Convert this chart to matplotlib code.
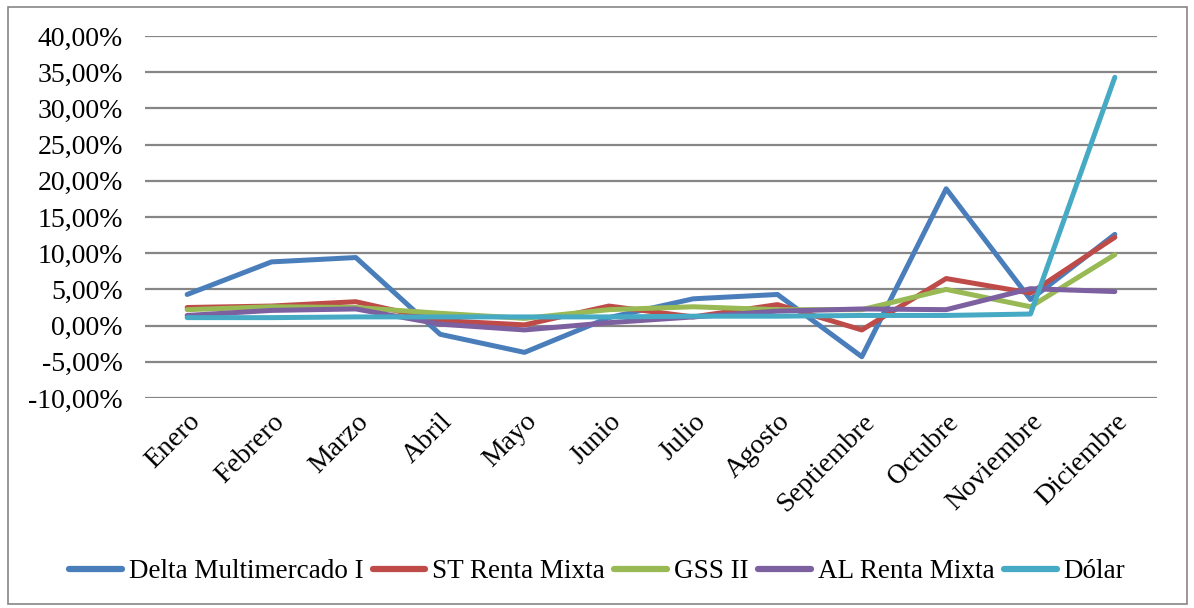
import matplotlib
matplotlib.use("Agg")
import matplotlib.pyplot as plt
from matplotlib.patches import Rectangle
from matplotlib.ticker import FuncFormatter

months = ["Enero", "Febrero", "Marzo", "Abril", "Mayo", "Junio", "Julio",
          "Agosto", "Septiembre", "Octubre", "Noviembre", "Diciembre"]
delta = [4.3, 8.8, 9.4, -1.2, -3.7, 1.1, 3.7, 4.3, -4.3, 18.9, 3.6, 12.6]
st_renta = [2.5, 2.7, 3.3, 0.7, 0.1, 2.7, 1.2, 2.9, -0.6, 6.5, 4.5, 12.2]
gss = [2.2, 2.6, 2.5, 1.7, 1.0, 2.2, 2.6, 2.2, 2.2, 5.0, 2.6, 9.8]
al_renta = [1.4, 2.1, 2.3, 0.2, -0.6, 0.4, 1.2, 2.0, 2.3, 2.2, 5.1, 4.7]
dolar = [1.1, 1.1, 1.2, 1.2, 1.2, 1.2, 1.3, 1.3, 1.4, 1.4, 1.6, 34.3]

series = [
    ("Delta Multimercado I", delta, "#4A7EBB"),
    ("ST Renta Mixta", st_renta, "#BE4B48"),
    ("GSS II", gss, "#98B954"),
    ("AL Renta Mixta", al_renta, "#7D60A0"),
    ("Dólar", dolar, "#46AAC5"),
]

plt.rcParams['font.family'] = ['Liberation Serif', 'DejaVu Serif']

fig = plt.figure(figsize=(11.94, 6.08), dpi=100)
ax = fig.add_axes([145/1194, 1 - 398/608, (1157-145)/1194, (398-36)/608])

x = list(range(len(months)))
for name, vals, col in series:
    ax.plot(x, vals, color=col, lw=3.6, label=name, solid_joinstyle='round',
            solid_capstyle='round')

ax.set_xlim(-0.5, len(months) - 0.5)
ax.set_ylim(-10, 40)
ax.set_yticks(range(-10, 41, 5))
ax.yaxis.set_major_formatter(FuncFormatter(lambda v, p: f"{v:.2f}%".replace(".", ",")))
ax.set_xticks(x)
ax.set_xticklabels(months, rotation=45, ha='right', rotation_mode='anchor')
ax.tick_params(axis='both', length=0, labelsize=20)
ax.tick_params(axis='y', pad=16)
ax.tick_params(axis='x', pad=8)
ax.grid(axis='y', color='#868686', lw=1.6)
ax.set_axisbelow(True)
for s in ax.spines.values():
    s.set_visible(False)

leg = fig.legend(loc='center', bbox_to_anchor=(0.5, 1 - 572/608), ncol=5,
                 frameon=False, fontsize=19.5, handlelength=1.95, columnspacing=0.35,
                 handletextpad=0.25)
for line in leg.get_lines():
    line.set_linewidth(4.5)

fig.patches.append(Rectangle((8/1194, 4/608), (1187-8)/1194, (601-4)/608,
                             transform=fig.transFigure, fill=False,
                             edgecolor='#868686', lw=1.2))

fig.savefig("out.png", dpi=100)
